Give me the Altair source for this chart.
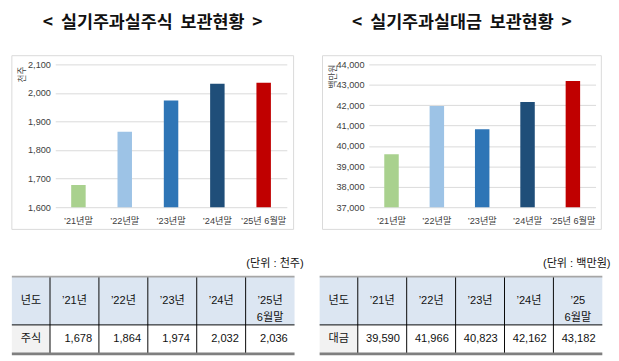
import altair as alt
import pandas as pd

FONT = "Liberation Sans, Noto Sans CJK KR, sans-serif"
KFONT = "Noto Sans CJK KR, sans-serif"
NB = "\u00a0"

periods = ["’21년말", "’22년말", "’23년말", "’24년말", "’25년 6월말"]
stock_values = [1678, 1864, 1974, 2032, 2036]
deposit_values = [39590, 41966, 40823, 42162, 43182]
stock_colors = ["#a9d18e", "#9dc3e6", "#2e75b6", "#1f4e79", "#c00000"]
deposit_colors = ["#a9d18e", "#bdd7ee", "#2e75b6", "#1f4e79", "#c00000"]
stock_ticks = [1600, 1700, 1800, 1900, 2000, 2100]
deposit_ticks = [37000, 38000, 39000, 40000, 41000, 42000, 43000, 44000]
stock_header = ["년도", "’21년", "’22년", "’23년", "’24년", "’25년\n6월말"]
deposit_header = ["년도", "’21년", "’22년", "’23년", "’24년", "’25\n6월말"]
stock_title = "<" + NB + " 실기주과실주식" + NB + " 보관현황" + NB + " >"
deposit_title = "<" + NB + " 실기주과실대금" + NB + " 보관현황" + NB + " >"


def bar_panel(title, unit, values, colors, ticks, W, H, lpad, rpad, tx, ty):
    df = pd.DataFrame({"period": periods, "value": values})
    frame = alt.Chart(df).transform_filter("datum.period == '" + periods[0] + "'").mark_rect(
        fillOpacity=0, stroke="#d9d9d9", strokeWidth=1
    ).encode(x=alt.value(-lpad), x2=alt.value(W + rpad), y=alt.value(-9), y2=alt.value(H + 23))
    bars = alt.Chart(df).mark_bar(size=15, clip=True).encode(
        x=alt.X("period:N", sort=periods, title=None,
                scale=alt.Scale(domain=periods),
                axis=alt.Axis(labelAngle=0, ticks=False, domain=False, labelPadding=9,
                              labelFontSize=9.5, labelColor="#404040", labelFont=FONT)),
        y=alt.Y("value:Q",
                scale=alt.Scale(domain=[ticks[0], ticks[-1]], nice=False, zero=False),
                axis=alt.Axis(values=ticks, format=",.0f", grid=True, gridColor="#d9d9d9",
                              domain=False, ticks=False, labelPadding=5, labelFontSize=9.5,
                              labelColor="#404040", labelFont=FONT,
                              title=unit, titleX=tx, titleY=ty, titleAngle=270,
                              titleAlign="center", titleBaseline="middle", titleFontSize=9,
                              titleFontWeight="normal", titleFont=KFONT, titleColor="#404040")),
        color=alt.Color("period:N", scale=alt.Scale(domain=periods, range=colors), legend=None),
    )
    return alt.layer(bars, frame).properties(
        width=W, height=H,
        title=alt.TitleParams(title, fontSize=18, fontWeight="bold", font=KFONT,
                              color="#111111", anchor="middle", frame="bounds", offset=24),
    )


def table_panel(headers, row_label, values, unit, W, lext, rext, H=80):
    cells = []
    for c in range(6):
        cells.append({"row": 0, "col": c, "label": headers[c]})
        cells.append({"row": 1, "col": c, "label": row_label if c == 0 else f"{values[c - 1]:,}"})
    df = pd.DataFrame(cells)
    xs = alt.Scale(domain=[0.22, 6], range=[-lext, W + rext], nice=False, zero=False)
    ys = alt.Scale(domain=[0, 1.6], reverse=True, nice=False, zero=False)
    base = alt.Chart(df).transform_calculate(
        x0="datum.col == 0 ? 0.22 : datum.col",
        x1="datum.col + 1",
        xm="datum.col == 0 ? 0.61 : datum.col + 0.5",
        y0="datum.row == 0 ? 0 : 1",
        y1="datum.row == 0 ? 1 : 1.6",
        ym="datum.row == 0 ? 0.5 : 1.3",
        fillc="datum.row == 0 ? '#dce6f2' : (datum.col == 0 ? '#f2f2f2' : '#ffffff')",
        xa="0.22",
        xb="6",
        ya="0",
        yb="1.6",
    )
    X0 = alt.X("x0:Q", scale=xs, axis=None)
    rects = base.mark_rect().encode(
        x=X0, x2="x1:Q",
        y=alt.Y("y0:Q", scale=ys, axis=None), y2="y1:Q",
        fill=alt.Fill("fillc:N", scale=None),
    )
    vlines = base.transform_filter("datum.col > 0 && datum.row == 0").mark_rule(
        color="#000000", strokeWidth=1
    ).encode(x=X0, y=alt.Y("ya:Q", scale=ys, axis=None), y2="yb:Q")
    firstcol = base.transform_filter("datum.col == 0")
    hsep = firstcol.transform_filter("datum.row == 1").mark_rule(color="#000000", strokeWidth=1).encode(
        x=alt.X("xa:Q", scale=xs, axis=None), x2="xb:Q", y=alt.Y("y0:Q", scale=ys, axis=None))
    htop = firstcol.transform_filter("datum.row == 0").mark_rule(color="#a6a6a6", strokeWidth=2).encode(
        x=alt.X("xa:Q", scale=xs, axis=None), x2="xb:Q", y=alt.Y("y0:Q", scale=ys, axis=None))
    hbot = firstcol.transform_filter("datum.row == 1").mark_rule(color="#7f7f7f", strokeWidth=3).encode(
        x=alt.X("xa:Q", scale=xs, axis=None), x2="xb:Q", y=alt.Y("y1:Q", scale=ys, axis=None))
    head = base.transform_filter("datum.row == 0 || datum.col == 0").mark_text(
        fontSize=11.5, font=FONT, lineBreak="\n", lineHeight=18, color="#111111"
    ).encode(x=alt.X("xm:Q", scale=xs, axis=None), y=alt.Y("ym:Q", scale=ys, axis=None), text="label:N")
    vals = base.transform_filter("datum.row == 1 && datum.col > 0").mark_text(
        fontSize=11.5, font=FONT, align="right", dx=-7, color="#111111"
    ).encode(x=alt.X("x1:Q", scale=xs, axis=None), y=alt.Y("ym:Q", scale=ys, axis=None), text="label:N")
    return alt.layer(rects, vlines, hsep, htop, hbot, head, vals).properties(
        width=W, height=H,
        title=alt.TitleParams(unit, anchor="end", fontSize=11.5, fontWeight="normal",
                              font=FONT, color="#111111", offset=6, dx=rext),
    )


left = alt.vconcat(
    bar_panel(stock_title, "천주", stock_values, stock_colors, stock_ticks,
              240, 148, 45, 7, -35, 10),
    table_panel(stock_header, "주식", stock_values, "(단위 : 천주)", 240, 45, 8),
    spacing=29,
)
right = alt.vconcat(
    bar_panel(deposit_title, "백만원", deposit_values, deposit_colors, deposit_ticks,
              235, 148, 48, 6, -38, 12),
    table_panel(deposit_header, "대금", deposit_values, "(단위 : 백만원)", 235, 51, 7),
    spacing=29,
)

chart = alt.hconcat(left, right, spacing=14).properties(
    padding={"left": 2, "top": 0, "right": 0, "bottom": 0}
).configure_view(strokeWidth=0)

chart.save("out.html", embed_options={"renderer": "svg", "actions": False})
